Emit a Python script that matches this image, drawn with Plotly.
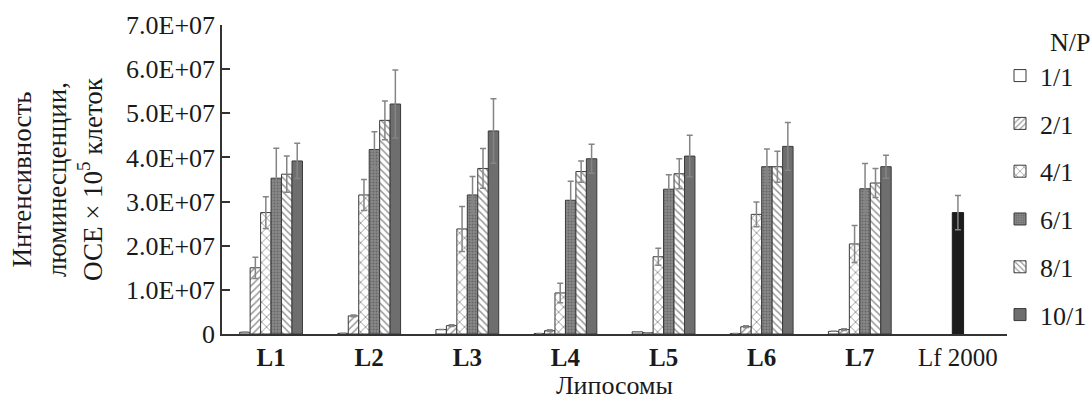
import plotly.graph_objects as go

categories = ["L1", "L2", "L3", "L4", "L5", "L6", "L7"]
cat_labels = ["<b>L1</b>", "<b>L2</b>", "<b>L3</b>", "<b>L4</b>", "<b>L5</b>", "<b>L6</b>", "<b>L7</b>", "Lf 2000"]
all_cats = categories + ["Lf 2000"]

series_names = ["1/1", "2/1", "4/1", "6/1", "8/1", "10/1"]
v11 = [0.04, 0.015, 0.10, 0.01, 0.05, 0.01, 0.06]
v21 = [1.50, 0.41, 0.19, 0.075, 0.03, 0.165, 0.10]
v41 = [2.75, 3.15, 2.38, 0.93, 1.75, 2.71, 2.04]
v61 = [3.53, 4.18, 3.15, 3.03, 3.28, 3.79, 3.29]
v81 = [3.62, 4.84, 3.75, 3.68, 3.63, 3.79, 3.42]
v101 = [3.92, 5.21, 4.60, 3.97, 4.03, 4.25, 3.79]

e11 = [0, 0, 0, 0, 0, 0, 0]
e21 = [0.24, 0.02, 0.02, 0.02, 0, 0.02, 0.02]
e41 = [0.36, 0.35, 0.51, 0.22, 0.19, 0.28, 0.42]
e61 = [0.68, 0.40, 0.42, 0.43, 0.33, 0.40, 0.57]
e81 = [0.41, 0.44, 0.45, 0.24, 0.34, 0.35, 0.33]
e101 = [0.40, 0.77, 0.73, 0.33, 0.47, 0.54, 0.26]

lf_value = [2.75]
lf_error = [0.39]

scale = 1e7
values = [v11, v21, v41, v61, v81, v101]
errors = [e11, e21, e41, e61, e81, e101]

styles = [
    dict(color="white", pattern=dict(shape="")),
    dict(color="white", pattern=dict(shape="/", fgcolor="#333333", bgcolor="white", size=5, solidity=0.3)),
    dict(color="white", pattern=dict(shape="x", fgcolor="#333333", bgcolor="white", size=7, solidity=0.25)),
    dict(color="#808080", pattern=dict(shape=".", fgcolor="#444444", bgcolor="#8a8a8a", size=3, solidity=0.4)),
    dict(color="white", pattern=dict(shape="\\", fgcolor="#333333", bgcolor="white", size=5, solidity=0.3)),
    dict(color="#6e6e6e", pattern=dict(shape="")),
]

FONT = "Liberation Serif, Times New Roman, serif"
fig = go.Figure()
for i, (name, vals, errs, st) in enumerate(zip(series_names, values, errors, styles)):
    fig.add_trace(go.Bar(
        x=categories, y=[v * scale for v in vals], name=name,
        offsetgroup=f"g{i}", legendgroup=f"g{i}",
        marker=dict(color=st["color"], pattern=st["pattern"], line=dict(color="#3a3a3a", width=1)),
        error_y=dict(type="data", array=[e * scale for e in errs], color="#858585", thickness=1.5, width=3),
    ))

fig.add_trace(go.Bar(
    x=["Lf 2000"], y=[v * scale for v in lf_value], name="Lf 2000", showlegend=False,
    offsetgroup="g5", width=0.115, offset=-0.0575,
    marker=dict(color="#1c1c1c", line=dict(color="#1c1c1c", width=1)),
    error_y=dict(type="data", array=[e * scale for e in lf_error], color="#858585", thickness=1.5, width=3),
))

tickvals = [0, 1e7, 2e7, 3e7, 4e7, 5e7, 6e7, 7e7]
ticktext = ["0", "1.0E+07", "2.0E+07", "3.0E+07", "4.0E+07", "5.0E+07", "6.0E+07", "7.0E+07"]

fig.update_layout(
    width=1092, height=400,
    margin=dict(l=222, r=85, t=25, b=66, autoexpand=False),
    paper_bgcolor="white", plot_bgcolor="white",
    barmode="group", bargap=0.36, bargroupgap=0,
    font=dict(family=FONT, size=26, color="#1a1a1a"),
    legend=dict(
        x=(1000 - 222) / 785, y=0.912, xanchor="left", yanchor="top",
        font=dict(size=26), tracegroupgap=11, itemwidth=30,
        bgcolor="rgba(0,0,0,0)",
    ),
    annotations=[dict(
        text="N/P", xref="paper", yref="paper",
        x=(1070 - 222) / 785, y=1 - (42 - 25) / 309,
        xanchor="center", yanchor="middle", showarrow=False,
        font=dict(size=26),
    )],
    xaxis=dict(
        categoryorder="array", categoryarray=all_cats,
        tickvals=all_cats, ticktext=cat_labels,
        showline=True, linecolor="#333", linewidth=1.5,
        ticks="", showgrid=False, tickfont=dict(size=25),
        title=dict(text="Липосомы", font=dict(size=26), standoff=0),
    ),
    yaxis=dict(
        range=[0, 7e7], tickvals=tickvals, ticktext=ticktext,
        showline=True, linecolor="#333", linewidth=1.5,
        ticks="inside", ticklen=8, tickcolor="#333", tickwidth=1.5,
        showgrid=False, zeroline=False, tickfont=dict(size=26),
        ticklabelstandoff=0,
        title=dict(text="Интенсивность<br>люминесценции,<br>ОСЕ × 10<sup>5</sup> клеток",
                   font=dict(size=27), standoff=16),
    ),
)

fig.write_html("out.html", config={"displayModeBar": False},
               post_script="document.body.style.margin='0';")
